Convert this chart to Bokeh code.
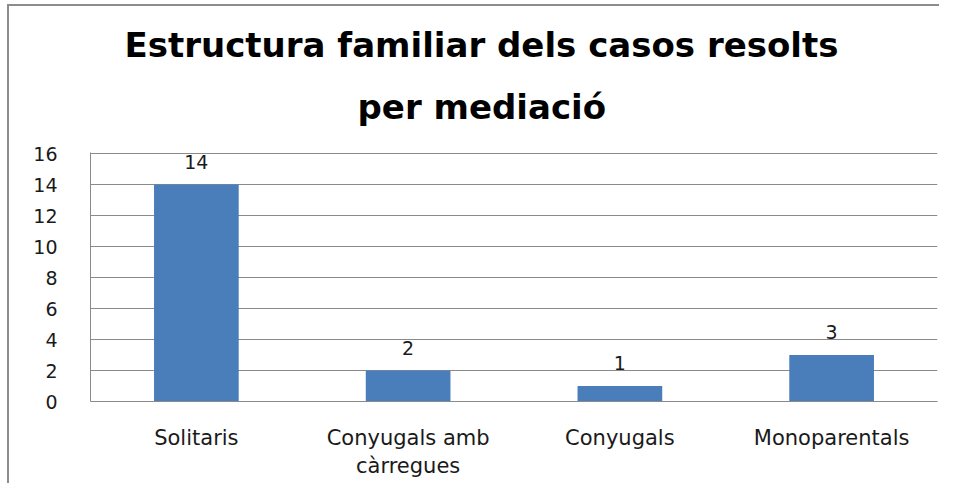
from bokeh.plotting import figure
from bokeh.models import ColumnDataSource, FixedTicker, LabelSet, Title
from bokeh.core.properties import value
from bokeh.embed import file_html
from bokeh.resources import INLINE

categories = ["Solitaris", "Conyugals amb\ncàrregues", "Conyugals", "Monoparentals"]
values = [14, 2, 1, 3]
y_ticks = [0, 2, 4, 6, 8, 10, 12, 14, 16]
title_lines = ["Estructura familiar dels casos resolts", "per mediació"]

FONT = "DejaVu Sans"
GRID = "#8a8a8a"
TXT = "#1a1a1a"

src = ColumnDataSource(dict(cat=categories, val=values, lab=[str(v) for v in values]))

p = figure(width=939, height=483, x_range=categories, y_range=(0, 16 * 249 / 248),
           output_backend="svg", toolbar_location=None, tools="",
           min_border_left=90, min_border_right=2, min_border_top=152, min_border_bottom=82)
p.title.visible = False

p.vbar(x="cat", top="val", width=0.4, source=src, color="#4A7EBB", line_color=None)
p.add_layout(LabelSet(x="cat", y="val", text="lab", source=src, text_align="center",
                      text_baseline="alphabetic", y_offset=16, text_font=value(FONT),
                      text_font_size="19px", text_color=TXT))

t2 = Title(text=title_lines[1], align="left", offset=267, text_font=FONT,
           text_font_size="34px", text_font_style="bold", text_color="#000000", standoff=51)
t1 = Title(text=title_lines[0], align="left", offset=34, text_font=FONT,
           text_font_size="34px", text_font_style="bold", text_color="#000000", standoff=-10)
p.add_layout(t2, "above")
p.add_layout(t1, "above")

p.xgrid.grid_line_color = None
p.ygrid.grid_line_color = GRID
p.ygrid.ticker = FixedTicker(ticks=y_ticks)
p.outline_line_color = None

p.yaxis.ticker = FixedTicker(ticks=y_ticks)
for ax in (p.xaxis, p.yaxis):
    ax.axis_line_color = GRID
    ax.major_tick_line_color = None
    ax.minor_tick_line_color = None
    ax.major_label_text_font = FONT
    ax.major_label_text_color = TXT
p.yaxis.major_label_text_font_size = "19px"
p.xaxis.major_label_text_font_size = "21px"
p.yaxis.major_label_standoff = 27
p.xaxis.major_label_standoff = 18
p.background_fill_color = "white"
p.border_fill_color = None
p.styles = {
    "background": "linear-gradient(#8c8c8c,#8c8c8c) 7px 4px / 2px 100% no-repeat, "
                  "linear-gradient(#8c8c8c,#8c8c8c) 7px 4px / 100% 2px no-repeat, white"
}

open("out.html", "w").write(file_html(p, INLINE))
